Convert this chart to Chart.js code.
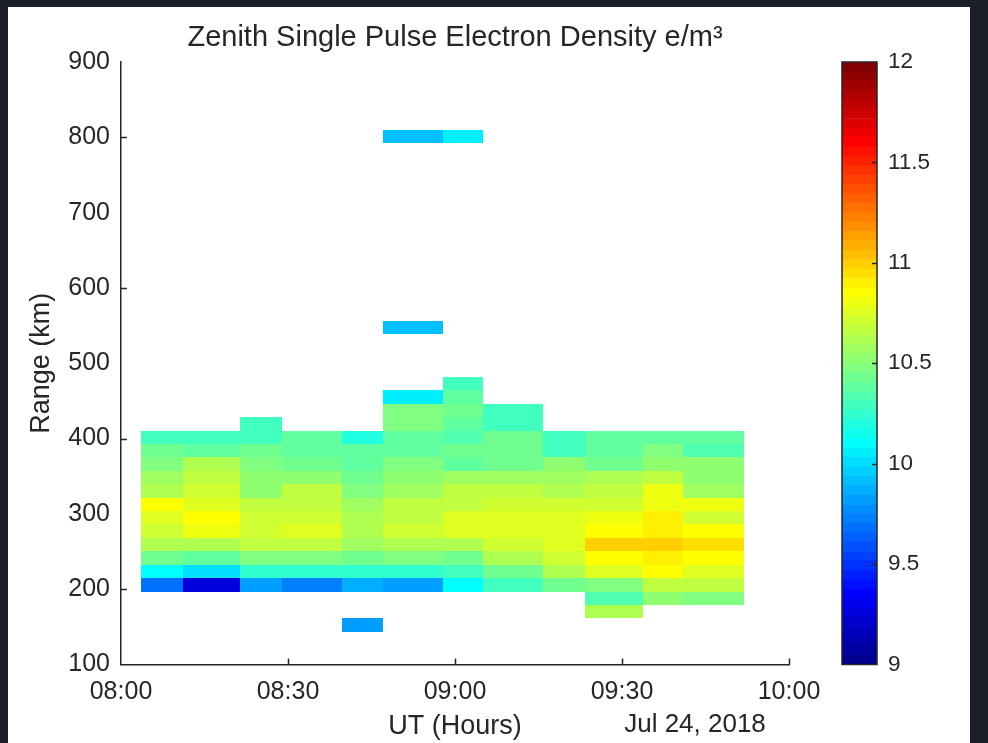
<!DOCTYPE html>
<html>
<head>
<meta charset="utf-8">
<title>Zenith Single Pulse Electron Density</title>
<script src="https://cdn.jsdelivr.net/npm/chart.js@4.4.0/dist/chart.umd.min.js"></script>
<style>
  html, body { margin: 0; padding: 0; width: 988px; height: 743px; overflow: hidden; background: #1b1f27; }
  #panel { position: absolute; left: 8px; top: 7px; width: 962px; height: 736px; background: #ffffff; }
  #main { position: absolute; left: 0; top: 0; }
  #cbar { position: absolute; left: 820px; top: 0; }
</style>
</head>
<body>
<div id="panel"></div>
<canvas id="main" width="988" height="743"></canvas>
<canvas id="cbar" width="168" height="743"></canvas>
<script>
// Time bin edges, minutes after 08:00 UT (Jul 24, 2018)
let timeEdges = [3.6, 11.1, 21.4, 28.9, 39.7, 47.1, 57.8, 65.0, 75.8, 83.3, 93.8, 101.0, 111.9];

// Range gate edges in km
let rangeEdges = [143.4, 161.3, 179.1, 196.9, 214.7, 232.5, 250.4, 268.2, 286.0, 303.8,
  321.6, 339.5, 357.3, 375.1, 392.9, 410.7, 428.5, 446.4, 464.2, 482.0];

// log10 electron density per time bin, lowest gate first (null = no data)
let N = null;
let density = [
  [N, N, N, 9.67, 10.09, 10.42, 10.62, 10.73, 10.77, 10.85, 10.62, 10.57, 10.48, 10.45, 10.28, N, N, N, N],
  [N, N, N, 9.27, 9.99, 10.39, 10.60, 10.79, 10.86, 10.77, 10.73, 10.68, 10.60, 10.39, 10.30, N, N, N, N],
  [N, N, N, 9.84, 10.24, 10.46, 10.65, 10.70, 10.70, 10.67, 10.54, 10.51, 10.48, 10.45, 10.29, 10.30, N, N, N],
  [N, N, N, 9.73, 10.24, 10.46, 10.65, 10.76, 10.72, 10.68, 10.65, 10.51, 10.45, 10.39, 10.39, N, N, N, N],
  [9.84, N, N, 9.87, 10.24, 10.45, 10.57, 10.62, 10.62, 10.59, 10.49, 10.42, 10.36, 10.36, 10.20, N, N, N, N],
  [N, N, N, 9.84, 10.24, 10.46, 10.62, 10.70, 10.68, 10.65, 10.57, 10.54, 10.48, 10.39, 10.36, 10.47, 10.47, 10.05, N],
  [N, N, N, 10.09, 10.27, 10.45, 10.62, 10.76, 10.76, 10.65, 10.65, 10.57, 10.39, 10.45, 10.33, 10.39, 10.42, 10.39, 10.30],
  [N, N, N, 10.27, 10.45, 10.62, 10.70, 10.76, 10.76, 10.71, 10.65, 10.57, 10.45, 10.45, 10.42, 10.30, 10.30, N, N],
  [N, N, N, 10.42, 10.60, 10.70, 10.74, 10.77, 10.76, 10.71, 10.62, 10.57, 10.54, 10.30, 10.30, N, N, N, N],
  [N, 10.60, 10.33, 10.48, 10.74, 10.86, 10.97, 10.85, 10.80, 10.73, 10.65, 10.60, 10.45, 10.39, 10.39, N, N, N, N],
  [N, N, 10.51, 10.68, 10.86, 10.91, 10.97, 10.90, 10.90, 10.80, 10.82, 10.65, 10.51, 10.48, 10.39, N, N, N, N],
  [N, N, 10.48, 10.68, 10.76, 10.85, 10.95, 10.85, 10.73, 10.82, 10.55, 10.54, 10.54, 10.33, 10.37, N, N, N, N]
];

// isolated gates away from the layer: [start min, end min, low km, high km, log10 Ne]
let strayCells = [
  [47.1, 57.8, 539.0, 556.4, 9.90],
  [47.1, 57.8, 792.5, 809.8, 9.90],
  [57.8, 65.0, 792.5, 809.8, 10.07]
];

let timeTickLabels = ["08:00", "08:30", "09:00", "09:30", "10:00"];
let colorMin = 9;
let colorMax = 12;
let colorLevels = 64;

let textColor = "#262626";
let fontFamily = "'Liberation Sans', Arial, Helvetica, sans-serif";

// MATLAB style jet colormap, 64 levels
function jetChannel(k) {
  if (k < 1 || k > 47) return 0;
  if (k <= 16) return k / 16;
  if (k <= 31) return 1;
  return (48 - k) / 16;
}

function jetByIndex(i) {
  let r = jetChannel(i - 24);
  let g = jetChannel(i - 8);
  let b = jetChannel(i + 8);
  return "rgb(" + Math.round(r * 255) + "," + Math.round(g * 255) + "," + Math.round(b * 255) + ")";
}

function jetColor(v) {
  let i = Math.floor((v - colorMin) / (colorMax - colorMin) * colorLevels) + 1;
  i = Math.max(1, Math.min(colorLevels, i));
  return jetByIndex(i);
}

// draws the pcolor cells through the chart scales
let heatmapPlugin = {
  id: "heatmapCells",
  beforeDatasetsDraw(chart) {
    let ctx = chart.ctx;
    let xs = chart.scales.x;
    let ys = chart.scales.y;

    function cell(t0, t1, r0, r1, v) {
      let x0 = Math.round(xs.getPixelForValue(t0));
      let x1 = Math.round(xs.getPixelForValue(t1));
      let y0 = Math.round(ys.getPixelForValue(r0));
      let y1 = Math.round(ys.getPixelForValue(r1));
      ctx.fillStyle = jetColor(v);
      ctx.fillRect(x0, y1, x1 - x0, y0 - y1);
    }

    ctx.save();
    density.forEach(function (column, i) {
      column.forEach(function (value, j) {
        if (value === null) return;
        cell(timeEdges[i], timeEdges[i + 1], rangeEdges[j], rangeEdges[j + 1], value);
      });
    });
    strayCells.forEach(function (c) {
      cell(c[0], c[1], c[2], c[3], c[4]);
    });
    ctx.restore();
  },
  afterDraw(chart) {
    let ctx = chart.ctx;
    let xs = chart.scales.x;
    let ys = chart.scales.y;
    let area = chart.chartArea;

    // inward tick marks, matlab style
    ctx.save();
    ctx.strokeStyle = textColor;
    ctx.lineWidth = 1.5;
    ctx.beginPath();
    [30, 60, 90, 120].forEach(function (t) {
      let x = Math.round(xs.getPixelForValue(t)) + 0.5;
      ctx.moveTo(x, area.bottom);
      ctx.lineTo(x, area.bottom - 6);
    });
    [200, 400, 600, 800].forEach(function (r) {
      let y = Math.round(ys.getPixelForValue(r)) + 0.5;
      ctx.moveTo(area.left, y);
      ctx.lineTo(area.left + 6, y);
    });
    ctx.stroke();

    // date under the time axis
    ctx.fillStyle = textColor;
    ctx.font = "26px " + fontFamily;
    ctx.textAlign = "center";
    ctx.textBaseline = "middle";
    ctx.fillText("Jul 24, 2018", 695, 725);
    ctx.restore();
  }
};

let mainChart = new Chart(document.getElementById("main"), {
  type: "scatter",
  data: { datasets: [] },
  options: {
    responsive: false,
    animation: false,
    layout: { padding: { left: 0, right: 199, top: 0, bottom: 0 } },
    plugins: {
      legend: { display: false },
      tooltip: { enabled: false },
      title: {
        display: true,
        text: "Zenith Single Pulse Electron Density e/m³",
        color: textColor,
        fullSize: false,
        font: { family: fontFamily, size: 29, weight: "normal" },
        padding: { top: 21, bottom: 6.2 }
      }
    },
    scales: {
      x: {
        type: "linear",
        min: 0,
        max: 120,
        grid: { display: false, drawTicks: false },
        border: { display: true, color: textColor, width: 1.5 },
        ticks: {
          stepSize: 30,
          autoSkip: false,
          maxRotation: 0,
          padding: 13,
          color: textColor,
          font: { family: fontFamily, size: 25 },
          callback: function (value, index) {
            return timeTickLabels[index];
          }
        },
        title: {
          display: true,
          text: "UT (Hours)",
          color: textColor,
          font: { family: fontFamily, size: 27 },
          padding: { top: 0, bottom: 0 }
        },
        afterFit: function (scale) {
          scale.height = 78.5;
        }
      },
      y: {
        type: "linear",
        min: 100,
        max: 900,
        grid: { display: false, drawTicks: false },
        border: { display: true, color: textColor, width: 1.5 },
        ticks: {
          stepSize: 100,
          padding: 11,
          color: textColor,
          font: { family: fontFamily, size: 25 }
        },
        title: {
          display: true,
          text: "Range (km)",
          color: textColor,
          font: { family: fontFamily, size: 27 },
          padding: { top: 25, bottom: 0 }
        },
        afterFit: function (scale) {
          scale.width = 121;
        }
      }
    }
  },
  plugins: [heatmapPlugin]
});

// colour bar: one floating bar per colormap level
let levelDatasets = [];
for (let k = 0; k < colorLevels; k++) {
  let lo = colorMin + (colorMax - colorMin) * k / colorLevels;
  let hi = colorMin + (colorMax - colorMin) * (k + 1) / colorLevels;
  levelDatasets.push({
    data: [[lo, hi]],
    backgroundColor: jetByIndex(k + 1),
    borderWidth: 0,
    barPercentage: 1,
    categoryPercentage: 1,
    grouped: false
  });
}

let colorBarFrame = {
  id: "colorBarFrame",
  afterDraw(chart) {
    let ctx = chart.ctx;
    let area = chart.chartArea;
    let ys = chart.scales.y;
    ctx.save();
    ctx.strokeStyle = textColor;
    ctx.lineWidth = 1.5;
    ctx.strokeRect(area.left, area.top, area.right - area.left, area.bottom - area.top);
    ctx.beginPath();
    [9.5, 10, 10.5, 11, 11.5].forEach(function (v) {
      let y = Math.round(ys.getPixelForValue(v)) + 0.5;
      ctx.moveTo(area.right, y);
      ctx.lineTo(area.right - 5, y);
    });
    ctx.stroke();
    ctx.restore();
  }
};

let colorBar = new Chart(document.getElementById("cbar"), {
  type: "bar",
  data: { labels: [""], datasets: levelDatasets },
  options: {
    responsive: false,
    animation: false,
    layout: { padding: { left: 22, right: 0, top: 62, bottom: 78.5 } },
    plugins: { legend: { display: false }, tooltip: { enabled: false } },
    scales: {
      x: { display: false },
      y: {
        position: "right",
        min: colorMin,
        max: colorMax,
        grid: { display: false, drawTicks: false },
        border: { display: false },
        ticks: {
          stepSize: 0.5,
          padding: 11,
          color: textColor,
          font: { family: fontFamily, size: 22.5 },
          callback: function (value) {
            return String(value);
          }
        },
        afterFit: function (scale) {
          scale.width = 111;
        }
      }
    }
  },
  plugins: [colorBarFrame]
});
</script>
</body>
</html>
